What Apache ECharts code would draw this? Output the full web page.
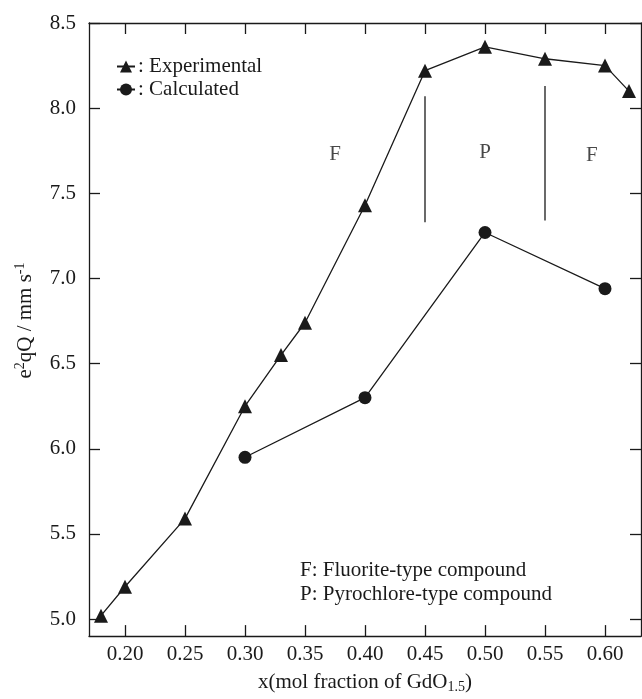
<!DOCTYPE html>
<html>
<head>
<meta charset="utf-8">
<script src="https://cdn.jsdelivr.net/npm/echarts@6/dist/echarts.min.js"></script>
<style>
  html, body { margin: 0; padding: 0; background: #fff; }
  #chart { width: 642px; height: 699px; }
</style>
</head>
<body>
<div id="chart"></div>
<script>
// ---- data ----
const xExperimental = [0.18, 0.20, 0.25, 0.30, 0.33, 0.35, 0.40, 0.45, 0.50, 0.55, 0.60, 0.62];
const yExperimental = [5.02, 5.19, 5.59, 6.25, 6.55, 6.74, 7.43, 8.22, 8.36, 8.29, 8.25, 8.10];
const xCalculated = [0.30, 0.40, 0.50, 0.60];
const yCalculated = [5.95, 6.30, 7.27, 6.94];
const xTicks = [0.20, 0.25, 0.30, 0.35, 0.40, 0.45, 0.50, 0.55, 0.60];
const yTicks = [5.0, 5.5, 6.0, 6.5, 7.0, 7.5, 8.0, 8.5];
const boundaryX = [0.45, 0.55];
const boundaryLow = [7.33, 7.34];
const boundaryHigh = [8.07, 8.13];
const regionText = ['F', 'P', 'F'];
const regionX = [0.375, 0.50, 0.589];
const regionY = [7.73, 7.74, 7.72];
const notes = ['F: Fluorite-type compound', 'P: Pyrochlore-type compound'];

const FONT = 'Liberation Serif';
const INK = '#1a1a1a';

const pairs = (xs, ys) => xs.map((x, i) => [x, ys[i]]);

const boundarySeries = boundaryX.map((bx, i) => ({
  type: 'line',
  data: [[bx, boundaryLow[i]], [bx, boundaryHigh[i]]],
  symbol: 'none',
  silent: true,
  lineStyle: { color: INK, width: 1.3 },
  z: 1
}));

const chart = echarts.init(document.getElementById('chart'));
const tickCommon = { show: true, inside: true, length: 11, lineStyle: { color: INK, width: 1.3 } };
const lineCommon = { show: true, onZero: false, lineStyle: { color: INK, width: 1.3 } };

chart.setOption({
  animation: false,
  backgroundColor: '#fff',
  textStyle: { fontFamily: FONT, color: INK },
  grid: { left: 89, right: 1, top: 23, bottom: 61, containLabel: false },
  legend: {
    data: ['Experimental', 'Calculated'],
    orient: 'vertical',
    left: 116,
    top: 56,
    padding: 0,
    itemGap: 2,
    itemWidth: 18,
    itemHeight: 15,
    formatter: name => ': ' + name,
    textStyle: { fontFamily: FONT, fontSize: 21, color: INK, lineHeight: 21, padding: [0, 0, 0, -2] }
  },
  xAxis: [{
    type: 'value', position: 'bottom', min: 0.17, max: 0.63,
    axisLine: lineCommon,
    axisTick: Object.assign({ customValues: xTicks }, tickCommon),
    axisLabel: { customValues: xTicks, formatter: v => v.toFixed(2), fontFamily: FONT, fontSize: 21, color: INK, margin: 8 },
    splitLine: { show: false },
    name: 'x(mol fraction of GdO{sub|1.5})',
    nameLocation: 'middle',
    nameGap: 27,
    nameTextStyle: {
      fontFamily: FONT, fontSize: 21, color: INK, lineHeight: 24, verticalAlign: 'top',
      rich: { sub: { fontFamily: FONT, fontSize: 14, color: INK, verticalAlign: 'bottom', lineHeight: 14 } }
    }
  }, {
    type: 'value', position: 'top', min: 0.17, max: 0.63,
    axisLine: lineCommon,
    axisTick: Object.assign({ customValues: xTicks }, tickCommon),
    axisLabel: { show: false },
    splitLine: { show: false }
  }],
  yAxis: [{
    type: 'value', position: 'left', min: 4.9, max: 8.5,
    axisLine: lineCommon,
    axisTick: Object.assign({ customValues: yTicks }, tickCommon),
    axisLabel: { customValues: yTicks, formatter: v => v.toFixed(1), fontFamily: FONT, fontSize: 21, color: INK, margin: 13 },
    splitLine: { show: false },
    name: 'e{sup|2}qQ / mm s{sup|-1}',
    nameLocation: 'middle',
    nameGap: 52,
    nameTextStyle: {
      fontFamily: FONT, fontSize: 21, color: INK, lineHeight: 24, padding: [0, 0, 0, 18],
      rich: { sup: { fontFamily: FONT, fontSize: 14, color: INK, verticalAlign: 'top', lineHeight: 14 } }
    }
  }, {
    type: 'value', position: 'right', min: 4.9, max: 8.5,
    axisLine: lineCommon,
    axisTick: Object.assign({ customValues: yTicks }, tickCommon),
    axisLabel: { show: false },
    splitLine: { show: false }
  }],
  graphic: notes.map((t, i) => ({
    type: 'text', x: 300, y: 570 + i * 24,
    style: { text: t, font: '21px "' + FONT + '"', fill: INK, verticalAlign: 'middle' }
  })),
  series: [
    {
      name: 'Experimental', type: 'line', data: pairs(xExperimental, yExperimental),
      symbol: 'triangle', symbolSize: 14,
      itemStyle: { color: INK }, lineStyle: { color: INK, width: 1.3 }, z: 3
    },
    {
      name: 'Calculated', type: 'line', data: pairs(xCalculated, yCalculated),
      symbol: 'circle', symbolSize: 13,
      itemStyle: { color: INK }, lineStyle: { color: INK, width: 1.3 }, z: 3
    },
    ...boundarySeries,
    {
      type: 'scatter', symbolSize: 0, silent: true,
      data: regionX.map((x, i) => ({ value: [x, regionY[i]], name: regionText[i] })),
      label: { show: true, position: 'inside', formatter: p => p.name, fontFamily: FONT, fontSize: 21, color: INK }
    }
  ]
});
</script>
</body>
</html>
